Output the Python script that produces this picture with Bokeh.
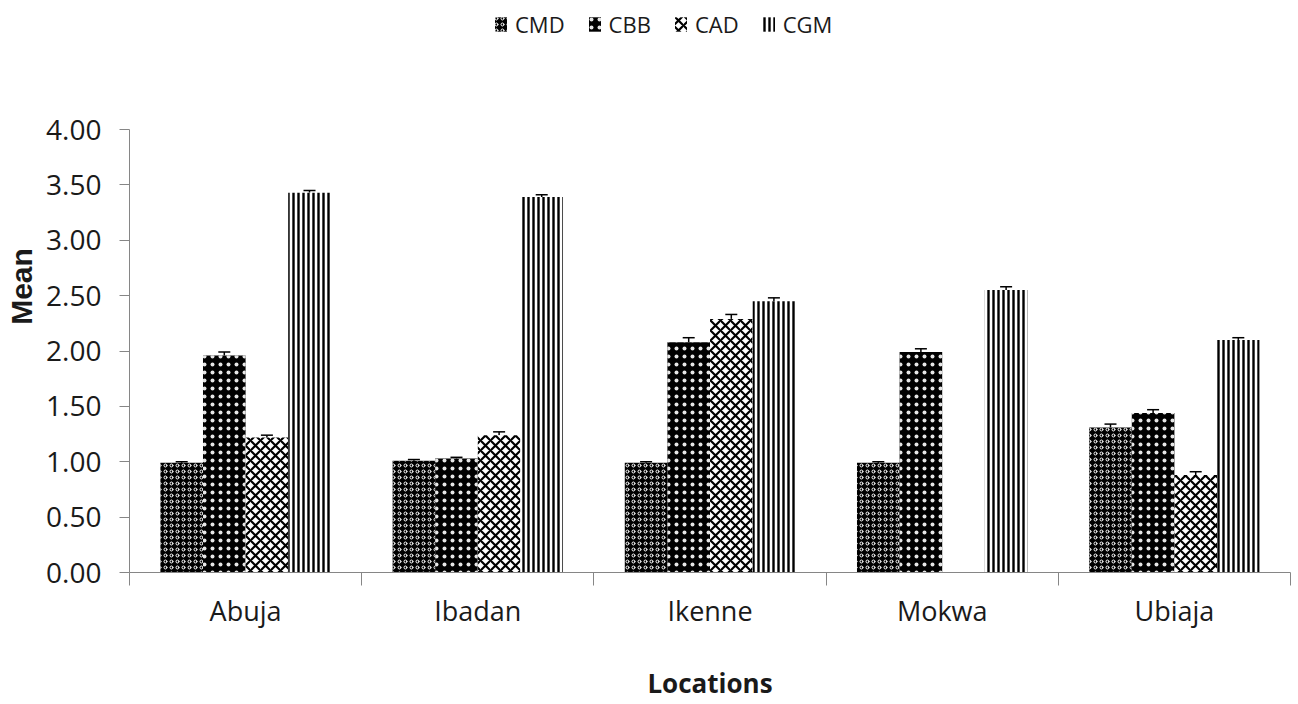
from bokeh.plotting import figure
from bokeh.models import (ColumnDataSource, Range1d, FixedTicker, NumeralTickFormatter,
                          Whisker, TeeHead, Legend, LegendItem)
from bokeh.embed import file_html
from bokeh.resources import INLINE

# ---------------- data ----------------
locations = ["Abuja", "Ibadan", "Ikenne", "Mokwa", "Ubiaja"]
series_names = ["CMD", "CBB", "CAD", "CGM"]
cmd = [0.99, 1.01, 0.99, 0.99, 1.31]
cbb = [1.96, 1.03, 2.08, 1.99, 1.44]
cad = [1.22, 1.24, 2.29, 0.00, 0.88]
cgm = [3.43, 3.39, 2.45, 2.55, 2.10]
cmd_err = [0.01, 0.01, 0.01, 0.01, 0.03]
cbb_err = [0.03, 0.01, 0.04, 0.03, 0.03]
cad_err = [0.02, 0.03, 0.04, 0.00, 0.03]
cgm_err = [0.02, 0.02, 0.03, 0.03, 0.02]
y_ticks = [0.0, 0.5, 1.0, 1.5, 2.0, 2.5, 3.0, 3.5, 4.0]
y_axis_max = 4.0

values = [cmd, cbb, cad, cgm]
errors = [cmd_err, cbb_err, cad_err, cgm_err]

styles = [
    dict(fill_color="black", hatch_pattern="ring", hatch_color="white", hatch_scale=6, hatch_weight=1),
    dict(fill_color="black", hatch_pattern="dot", hatch_color="white", hatch_scale=8, hatch_weight=0.1,
         hatch_alpha=0.9),
    dict(fill_color="white", hatch_pattern="diagonal_cross", hatch_color="black", hatch_scale=10, hatch_weight=2.2),
    dict(fill_color="white", hatch_pattern="vertical_line", hatch_color="black", hatch_scale=5, hatch_weight=2.4),
]

n_cat = len(locations)
n_ser = len(series_names)
bar_w = 1.0 / (n_ser + 1.45)
offsets = [(k - (n_ser - 1) / 2) * bar_w for k in range(n_ser)]

# frame spans the whole height above the x axis so the legend can sit inside it;
# the visible y axis is bounded to 0..4
frame_px = 572.0
px_per_unit = (572.0 - 129.0) / y_axis_max
p = figure(width=1298, height=704, x_range=Range1d(0, n_cat),
           y_range=Range1d(0, frame_px / px_per_unit),
           output_backend="svg", toolbar_location=None,
           min_border_left=129, min_border_right=8, min_border_top=0, min_border_bottom=132)
p.xgrid.grid_line_color = None
p.ygrid.grid_line_color = None
p.outline_line_color = None
p.background_fill_color = "white"

renderers = []
for k in range(n_ser):
    xs = [i + 0.5 + offsets[k] for i in range(n_cat)]
    src = ColumnDataSource(dict(x=xs, top=values[k]))
    r = p.vbar(x="x", top="top", width=bar_w, source=src, line_color=None, **styles[k])
    renderers.append(r)
    keep = [j for j in range(n_cat) if values[k][j] > 0]
    wsrc = ColumnDataSource(dict(x=[xs[j] for j in keep],
                                 lower=[values[k][j] for j in keep],
                                 upper=[values[k][j] + errors[k][j] for j in keep]))
    w = Whisker(source=wsrc, base="x", lower="lower", upper="upper",
                line_color="black", line_width=1.5,
                upper_head=TeeHead(size=12, line_color="black", line_width=1.5),
                lower_head=None)
    p.add_layout(w)

# ---------------- axes ----------------
axis_gray = "#868686"
text_col = "#1a1a1a"

xa = p.xaxis[0]
xa.ticker = FixedTicker(ticks=[i + 0.5 for i in range(n_cat)],
                        minor_ticks=[float(i) for i in range(n_cat + 1)])
xa.major_label_overrides = {i + 0.5: locations[i] for i in range(n_cat)}
xa.major_tick_line_color = None
xa.major_tick_out = 0
xa.major_tick_in = 0
xa.minor_tick_line_color = axis_gray
xa.minor_tick_out = 13
xa.minor_tick_in = 0
xa.axis_line_color = axis_gray
xa.major_label_text_font = "Open Sans"
xa.major_label_text_font_size = "27px"
xa.major_label_text_color = text_col
xa.major_label_standoff = 6
xa.axis_label = "Locations"
xa.axis_label_text_font = "Open Sans"
xa.axis_label_text_font_style = "bold"
xa.axis_label_text_font_size = "26px"
xa.axis_label_text_color = text_col
xa.axis_label_standoff = 33

ya = p.yaxis[0]
ya.bounds = (0, y_axis_max)
ya.ticker = FixedTicker(ticks=y_ticks)
ya.formatter = NumeralTickFormatter(format="0.00")
ya.minor_tick_line_color = None
ya.major_tick_line_color = axis_gray
ya.major_tick_out = 10
ya.major_tick_in = 0
ya.axis_line_color = axis_gray
ya.major_label_text_font = "Open Sans"
ya.major_label_text_font_size = "28px"
ya.major_label_text_color = text_col
ya.major_label_standoff = 18
ya.axis_label = "Mean"
ya.axis_label_text_font = "Liberation Sans"
ya.axis_label_text_font_style = "bold"
ya.axis_label_text_font_size = "30px"
ya.axis_label_text_color = text_col
ya.axis_label_standoff = 5

# ---------------- legend ----------------
legend = Legend(items=[LegendItem(label=series_names[k], renderers=[renderers[k]])
                       for k in range(n_ser)],
                orientation="horizontal", location=(364, 533),
                border_line_color=None, background_fill_alpha=0,
                padding=0, margin=0, spacing=22, label_standoff=7,
                glyph_width=15, glyph_height=18,
                label_text_font="Open Sans", label_text_font_size="22px",
                label_text_color=text_col)
p.add_layout(legend, "center")

open("out.html", "w").write(file_html(p, INLINE))
